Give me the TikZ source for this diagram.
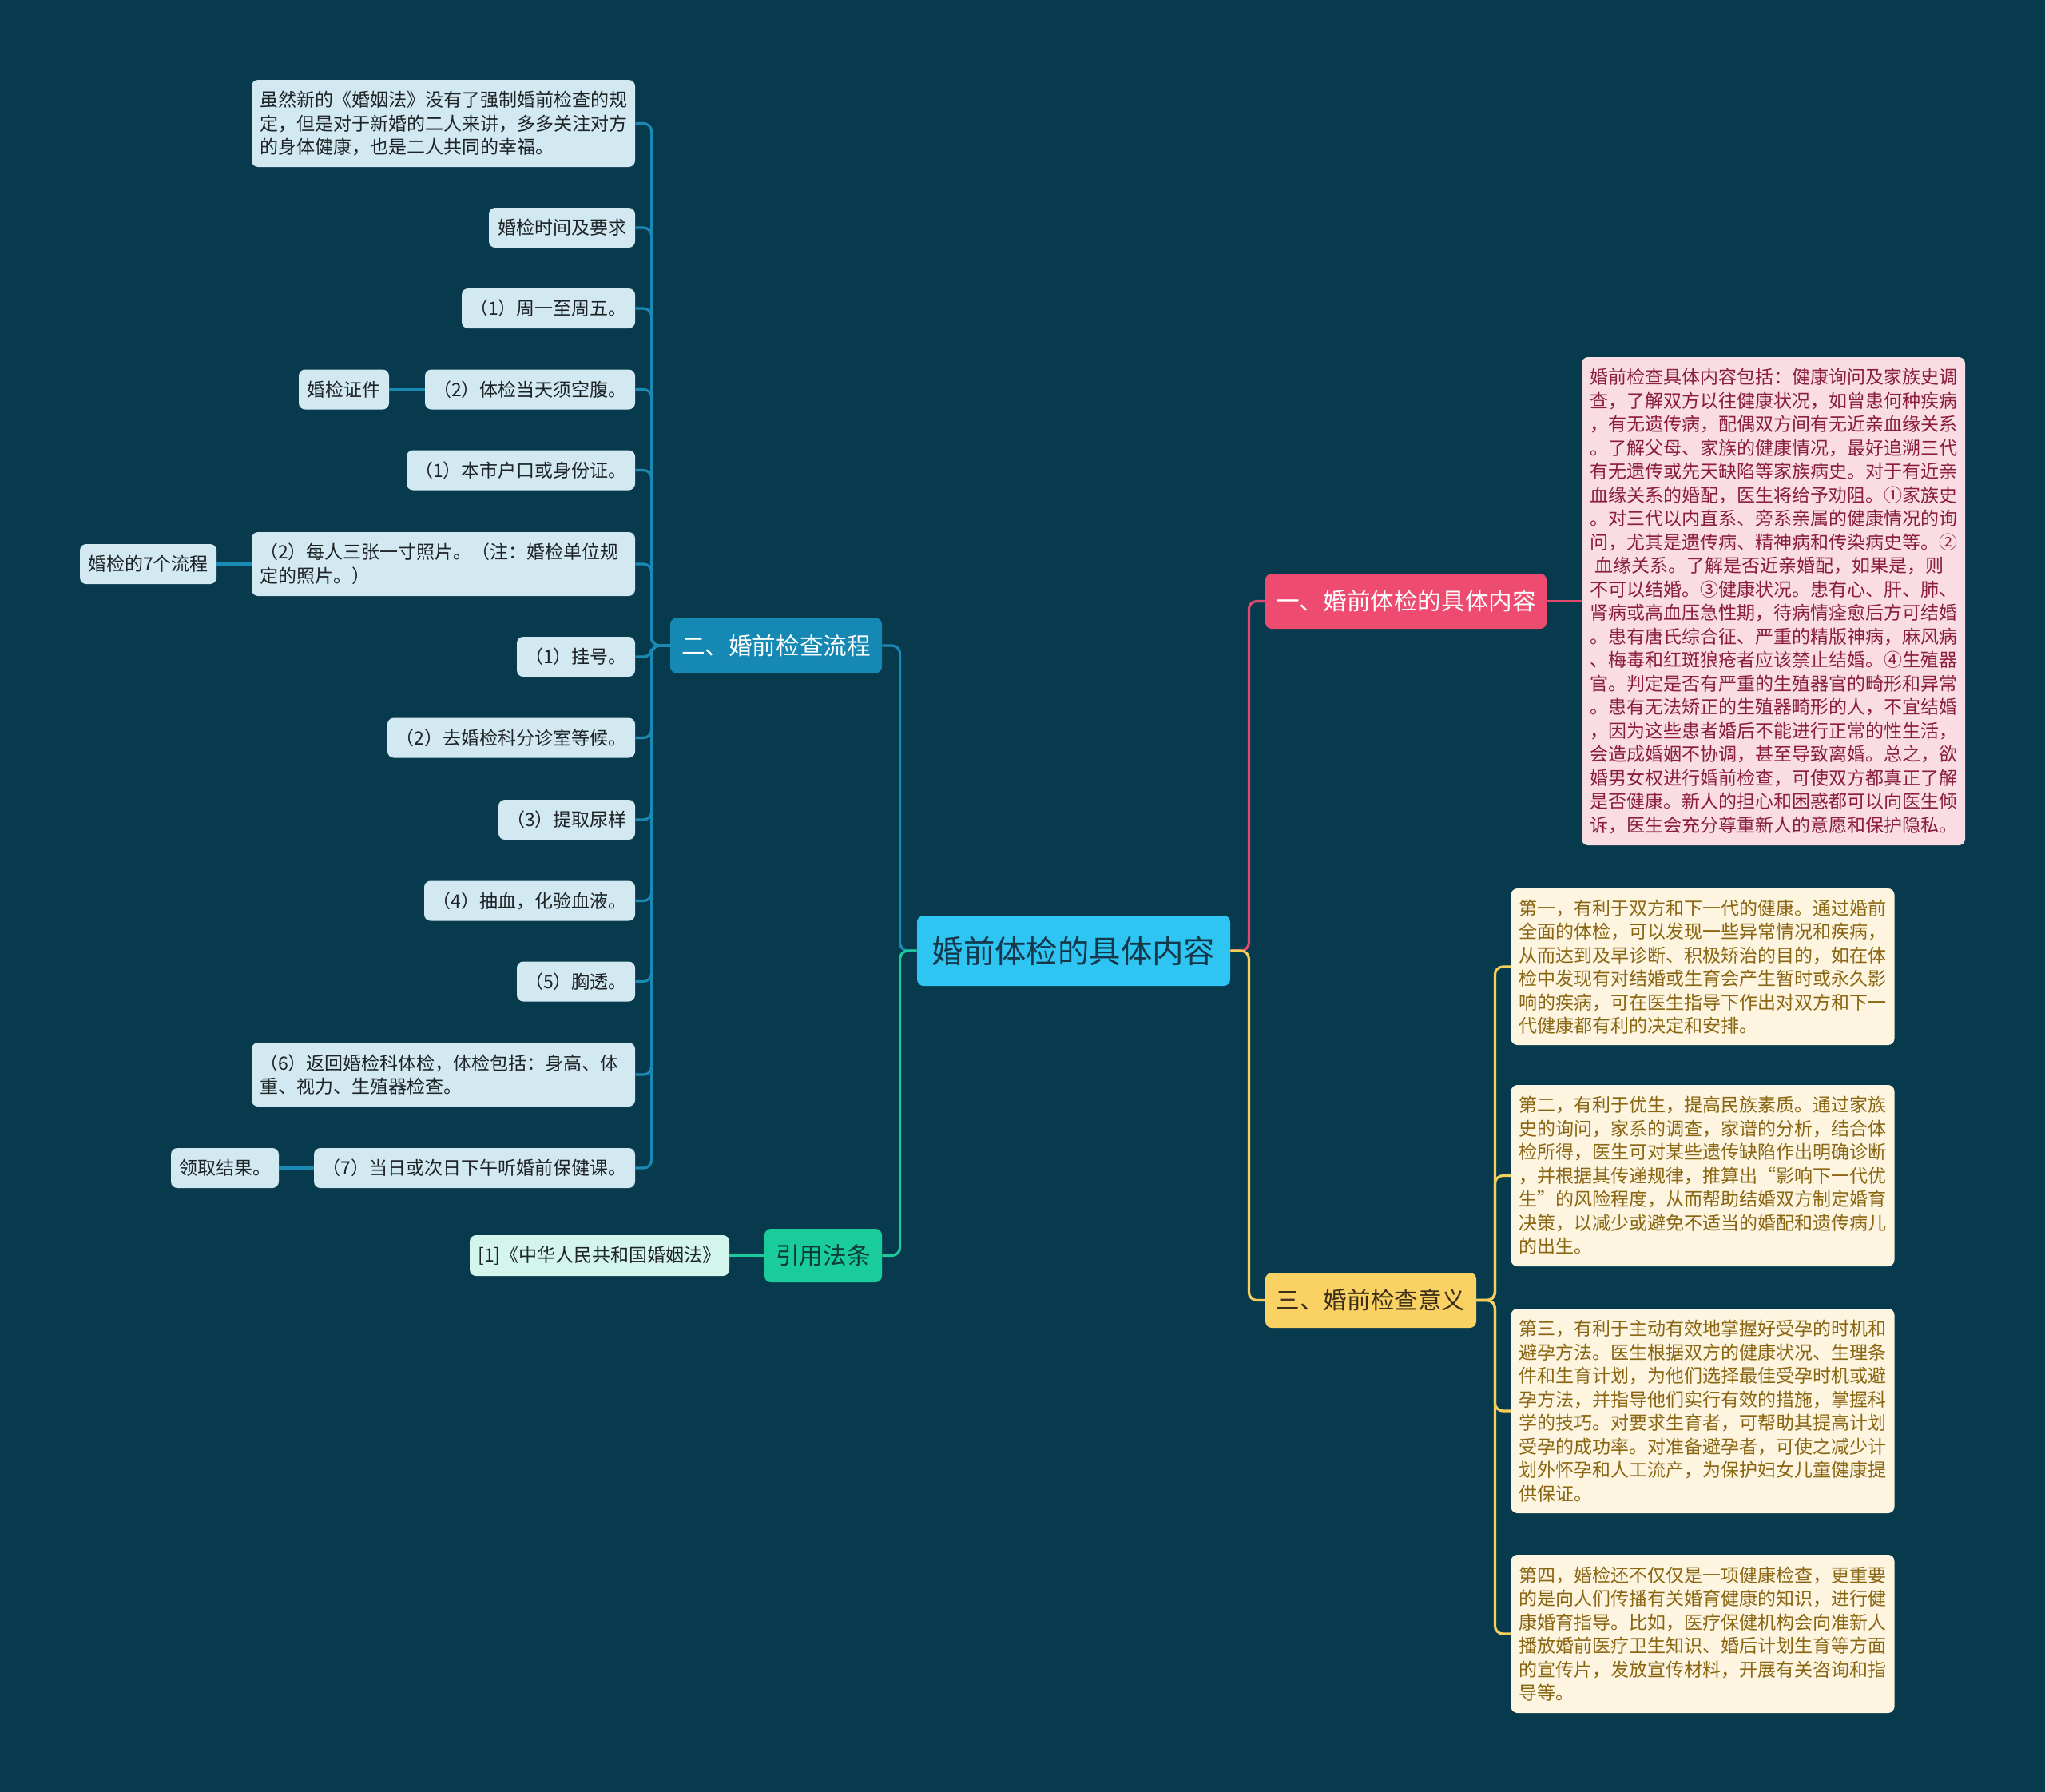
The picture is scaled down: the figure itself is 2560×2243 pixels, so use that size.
\documentclass[tikz,border=0pt]{standalone}
\usepackage{fontspec}
\setmainfont{Noto Sans CJK SC}
\definecolor{bg}{HTML}{083A4E}
\definecolor{lfill}{HTML}{D2E9F1}
\definecolor{ltext}{HTML}{1E2326}
\definecolor{bline}{HTML}{1A8AB5}
\definecolor{bfill}{HTML}{1589B4}
\definecolor{cfill}{HTML}{2EC5F3}
\definecolor{ctext}{HTML}{15374A}
\definecolor{gfill}{HTML}{1BCC9B}
\definecolor{gline}{HTML}{1BC99A}
\definecolor{gtext}{HTML}{0E3B36}
\definecolor{mfill}{HTML}{D4F5EC}
\definecolor{pfill}{HTML}{EE4B71}
\definecolor{pline}{HTML}{E04A6E}
\definecolor{pbox}{HTML}{FADDE4}
\definecolor{ptext}{HTML}{8B1E3F}
\definecolor{yfill}{HTML}{FAD163}
\definecolor{yline}{HTML}{F5CF5A}
\definecolor{ybox}{HTML}{FDF5E0}
\definecolor{ytext}{HTML}{8A6512}
\definecolor{ydark}{HTML}{3B2F1A}
\tikzset{
  box/.style={rectangle, rounded corners=4pt, inner xsep=5pt, inner ysep=0pt,
    font=\fontsize{11.5pt}{14.75pt}\selectfont},
  lbox/.style={box, fill=lfill, text=ltext, minimum height=25pt},
  mbox/.style={box, align=left, text width=230pt},
  topic/.style={rectangle, rounded corners=4pt, inner sep=0pt, minimum height=34.5pt,
    font=\fontsize{14.8pt}{18pt}\selectfont},
  conn/.style={line width=1.6pt, rounded corners=5pt},
}
\begin{document}
\begin{tikzpicture}[x=0.5pt,y=-0.5pt]
\fill[bg] (0,0) rectangle (2560,2243);
\useasboundingbox (0,0) rectangle (2560,2243);

% center
\node[topic, fill=cfill, text=ctext, minimum width=196pt, minimum height=44pt,
  font=\fontsize{19.7pt}{22pt}\selectfont] (c) at (1344,1190) {婚前体检的具体内容};

% main branches
\node[topic, fill=bfill, text=white, minimum width=132.5pt] (b2) at (971.5,808) {二、婚前检查流程};
\node[topic, fill=gfill, text=gtext, minimum width=73.5pt, minimum height=33.5pt] (bq) at (1030.5,1571.5) {引用法条};
\node[topic, fill=pfill, text=white, minimum width=176pt] (b1) at (1760,752.5) {一、婚前体检的具体内容};
\node[topic, fill=yfill, text=ydark, minimum width=132pt] (b3) at (1716,1627.5) {三、婚前检查意义};

% left column
\node[lbox, mbox, minimum height=54.5pt] (l0) at (555,154.5) {虽然新的《婚姻法》没有了强制婚前检查的规\\定，但是对于新婚的二人来讲，多多关注对方\\的身体健康，也是二人共同的幸福。};
\node[lbox, minimum width=91.5pt] (l1) at (703.5,285) {婚检时间及要求};
\node[lbox, minimum width=108.5pt] (l2) at (686.5,386) {（1）周一至周五。};
\node[lbox, minimum width=131.5pt] (l3) at (663.5,487.5) {（2）体检当天须空腹。};
\node[lbox, minimum width=56.5pt] (l3a) at (430.5,487.5) {婚检证件};
\node[lbox, minimum width=143pt] (l4) at (652,588.5) {（1）本市户口或身份证。};
\node[lbox, mbox, minimum height=40pt] (l5) at (555,706) {（2）每人三张一寸照片。（注：婚检单位规\\定的照片。）};
\node[lbox, minimum width=85.5pt] (l5a) at (185.5,706) {婚检的7个流程};
\node[lbox, minimum width=74pt] (l6) at (721,822) {（1）挂号。};
\node[lbox, minimum width=155pt] (l7) at (640,923.5) {（2）去婚检科分诊室等候。};
\node[lbox, minimum width=85.5pt] (l8) at (709.5,1026) {（3）提取尿样};
\node[lbox, minimum width=132pt] (l9) at (663,1127.5) {（4）抽血，化验血液。};
\node[lbox, minimum width=74pt] (l10) at (721,1228.5) {（5）胸透。};
\node[lbox, mbox, minimum height=40pt] (l11) at (555,1345) {（6）返回婚检科体检，体检包括：身高、体\\重、视力、生殖器检查。};
\node[lbox, minimum width=201pt] (l12) at (594,1462) {（7）当日或次日下午听婚前保健课。};
\node[lbox, minimum width=67.5pt] (l12a) at (281.5,1462) {领取结果。};
\node[box, fill=mfill, text=ltext, minimum width=162.5pt, minimum height=25.5pt] (q1) at (750.5,1571.5) {[1]《中华人民共和国婚姻法》};

% pink box
\node[box, mbox, fill=pbox, text=ptext, minimum height=305.5pt] (p1) at (2220,752.5) {婚前检查具体内容包括：健康询问及家族史调\\查，了解双方以往健康状况，如曾患何种疾病\\，有无遗传病，配偶双方间有无近亲血缘关系\\。了解父母、家族的健康情况，最好追溯三代\\有无遗传或先天缺陷等家族病史。对于有近亲\\血缘关系的婚配，医生将给予劝阻。①家族史\\。对三代以内直系、旁系亲属的健康情况的询\\问，尤其是遗传病、精神病和传染病史等。②\\\hspace*{0.3em}血缘关系。了解是否近亲婚配，如果是，则\\不可以结婚。③健康状况。患有心、肝、肺、\\肾病或高血压急性期，待病情痊愈后方可结婚\\。患有唐氏综合征、严重的精版神病，麻风病\\、梅毒和红斑狼疮者应该禁止结婚。④生殖器\\官。判定是否有严重的生殖器官的畸形和异常\\。患有无法矫正的生殖器畸形的人，不宜结婚\\，因为这些患者婚后不能进行正常的性生活，\\会造成婚姻不协调，甚至导致离婚。总之，欲\\婚男女权进行婚前检查，可使双方都真正了解\\是否健康。新人的担心和困惑都可以向医生倾\\诉，医生会充分尊重新人的意愿和保护隐私。};

% yellow boxes
\node[box, mbox, fill=ybox, text=ytext, minimum height=98pt] (y1) at (2131.5,1210) {第一，有利于双方和下一代的健康。通过婚前\\全面的体检，可以发现一些异常情况和疾病，\\从而达到及早诊断、积极矫治的目的，如在体\\检中发现有对结婚或生育会产生暂时或永久影\\响的疾病，可在医生指导下作出对双方和下一\\代健康都有利的决定和安排。};
\node[box, mbox, fill=ybox, text=ytext, minimum height=113.5pt] (y2) at (2131.5,1471.5) {第二，有利于优生，提高民族素质。通过家族\\史的询问，家系的调查，家谱的分析，结合体\\检所得，医生可对某些遗传缺陷作出明确诊断\\，并根据其传递规律，推算出“影响下一代优\\生”的风险程度，从而帮助结婚双方制定婚育\\决策，以减少或避免不适当的婚配和遗传病儿\\的出生。};
\node[box, mbox, fill=ybox, text=ytext, minimum height=128pt] (y3) at (2131.5,1766) {第三，有利于主动有效地掌握好受孕的时机和\\避孕方法。医生根据双方的健康状况、生理条\\件和生育计划，为他们选择最佳受孕时机或避\\孕方法，并指导他们实行有效的措施，掌握科\\学的技巧。对要求生育者，可帮助其提高计划\\受孕的成功率。对准备避孕者，可使之减少计\\划外怀孕和人工流产，为保护妇女儿童健康提\\供保证。};
\node[box, mbox, fill=ybox, text=ytext, minimum height=99pt] (y4) at (2131.5,2045) {第四，婚检还不仅仅是一项健康检查，更重要\\的是向人们传播有关婚育健康的知识，进行健\\康婚育指导。比如，医疗保健机构会向准新人\\播放婚前医疗卫生知识、婚后计划生育等方面\\的宣传片，发放宣传材料，开展有关咨询和指\\导等。};

% connectors: center to branches
\draw[conn, bline] (c.west) -- ++(-21,0) |- (b2.east);
\draw[conn, gline] (c.west) -- ++(-21,0) |- (bq.east);
\draw[conn, pline] (c.east) -- ++(23,0) |- (b1.west);
\draw[conn, yline] (c.east) -- ++(23,0) |- (b3.west);

% 二 to children
\foreach \n in {l0,l1,l2,l3,l4,l5,l6,l7,l8,l9,l10,l11,l12}
  \draw[conn, bline] (b2.west) -- ++(-23,0) |- (\n.east);
\draw[conn, bline] (l3.west) -- (l3a.east);
\draw[conn, bline] (l5.west) -- (l5a.east);
\draw[conn, bline] (l12.west) -- (l12a.east);

% others
\draw[conn, gline] (bq.west) -- (q1.east);
\draw[conn, pline] (b1.east) -- (p1.west);
\foreach \n in {y1,y2,y3,y4}
  \draw[conn, yline] (b3.east) -- ++(23,0) |- (\n.west);
\end{tikzpicture}
\end{document}
